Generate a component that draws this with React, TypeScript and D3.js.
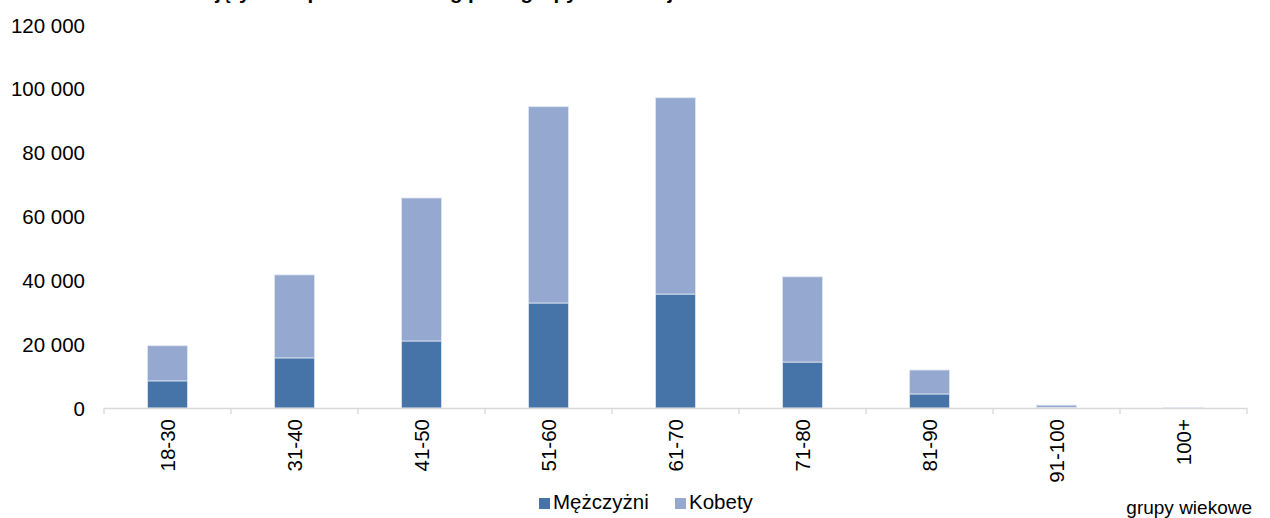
import React from 'react';
import * as d3 from 'd3';

const categories = ['18-30', '31-40', '41-50', '51-60', '61-70', '71-80', '81-90', '91-100', '100+'];
const menValues = [8500, 15700, 21000, 32900, 35700, 14400, 4400, 150, 10];
const womenValues = [11000, 26000, 44800, 61500, 61500, 26700, 7500, 750, 20];
const yTicks = [0, 20000, 40000, 60000, 80000, 100000, 120000];
const seriesNames = ['Mężczyżni', 'Kobety'];
const titleText = 'Liczba osób objętych wsparciem według płci i grupy wiekowej';
const axisTitle = 'grupy wiekowe';

const W = 1270;
const H = 518;
const FONT = "Arial, 'Liberation Sans', sans-serif";
const COLORS = ['#4674A8', '#95A9D0'];

export default function App() {
  const x = d3.scaleBand<string>().domain(categories).range([104, 1247]).paddingInner(0).paddingOuter(0);
  const y = d3.scaleLinear().domain([0, 120000]).range([408, 25]);
  const barW = x.bandwidth() * 0.315;

  const rows = categories.map((c, i) => ({ cat: c, men: menValues[i], women: womenValues[i] }));
  const stack = d3.stack<any>().keys(['men', 'women'])(rows);
  const fmt = (v: number) => d3.format(',')(v).replace(/,/g, ' ');

  const boundaries = categories.map((c) => x(c) as number).concat([1247]);

  return (
    <svg width={W} height={H} style={{ position: 'absolute', left: 0, top: 0, background: '#fff' }} fontFamily={FONT}>
      <text x={66} y={-1.5} fontSize={20.5} fontWeight="bold" fill="#000">{titleText}</text>

      {yTicks.map((t) => (
        <text key={t} x={85} y={y(t)} fontSize={20.5} textAnchor="end" dominantBaseline="central" fill="#000">
          {fmt(t)}
        </text>
      ))}

      {stack.map((s, si) => (
        <g key={si}>
          {s.map((d: any, i: number) => {
            const cx = (x(categories[i]) as number) + x.bandwidth() / 2;
            const y0 = y(d[0]);
            const y1 = y(d[1]);
            return (
              <rect
                key={i}
                x={cx - barW / 2}
                y={y1}
                width={barW}
                height={Math.max(0, y0 - y1)}
                fill={COLORS[si]}
                stroke="#dfe6f1"
                strokeWidth={0.8}
              />
            );
          })}
        </g>
      ))}

      <line x1={104} x2={1247} y1={408.5} y2={408.5} stroke="#d9d9d9" strokeWidth={1.3} />
      {boundaries.map((bx, i) => (
        <line key={i} x1={bx} x2={bx} y1={408} y2={414} stroke="#d9d9d9" strokeWidth={1.3} />
      ))}

      {categories.map((c) => {
        const cx = (x(c) as number) + x.bandwidth() / 2;
        return (
          <text
            key={c}
            transform={`translate(${cx},419) rotate(-90)`}
            fontSize={20.5}
            textAnchor="end"
            dominantBaseline="central"
            fill="#000"
          >
            {c}
          </text>
        );
      })}

      <rect x={539} y={498} width={11} height={11} fill={COLORS[0]} />
      <text x={553} y={509} fontSize={20.5} fill="#000">{seriesNames[0]}</text>
      <rect x={675} y={498} width={11} height={11} fill={COLORS[1]} />
      <text x={689} y={509} fontSize={20.5} fill="#000">{seriesNames[1]}</text>

      <text x={1252} y={514} fontSize={19} textAnchor="end" fill="#000">{axisTitle}</text>
    </svg>
  );
}
